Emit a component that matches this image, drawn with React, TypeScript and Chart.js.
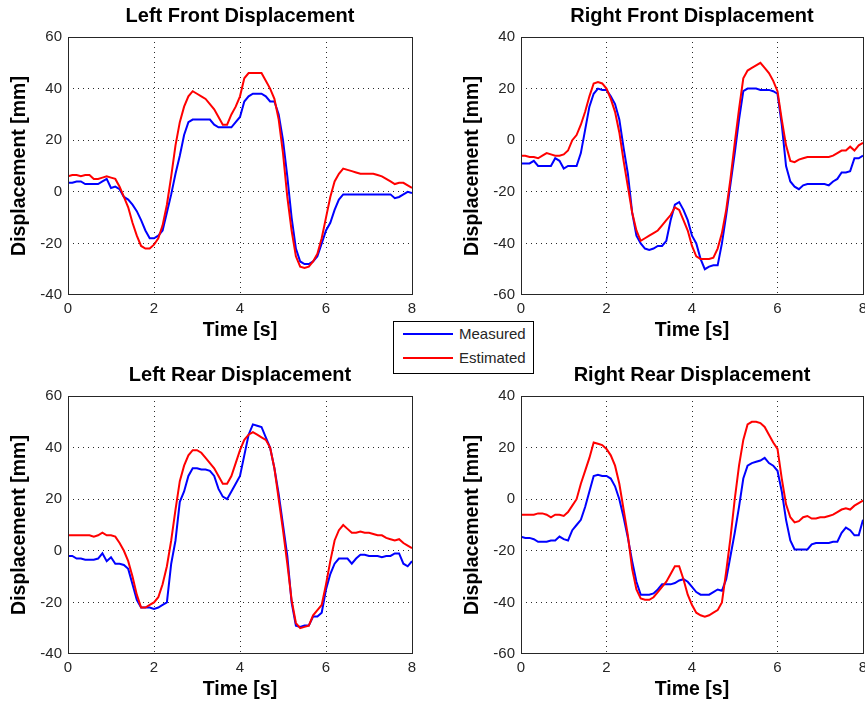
import React, { useEffect, useRef } from 'react';
import { Chart, registerables } from 'chart.js';

Chart.register(...registerables);

const TIME = [
  0, 0.1, 0.2, 0.3, 0.4, 0.5, 0.6, 0.7, 0.8, 0.9,
  1, 1.1, 1.2, 1.3, 1.4, 1.5, 1.6, 1.7, 1.8, 1.9,
  2, 2.1, 2.2, 2.3, 2.4, 2.5, 2.6, 2.7, 2.8, 2.9,
  3, 3.1, 3.2, 3.3, 3.4, 3.5, 3.6, 3.7, 3.8, 3.9,
  4, 4.1, 4.2, 4.3, 4.4, 4.5, 4.6, 4.7, 4.8, 4.9,
  5, 5.1, 5.2, 5.3, 5.4, 5.5, 5.6, 5.7, 5.8, 5.9,
  6, 6.1, 6.2, 6.3, 6.4, 6.5, 6.6, 6.7, 6.8, 6.9,
  7, 7.1, 7.2, 7.3, 7.4, 7.5, 7.6, 7.7, 7.8, 7.9,
  8,
];

const LF_MEASURED = [
  3.5, 3.5, 4, 4, 3, 3, 3, 3, 4, 5,
  1.5, 2, 1, -2, -3, -5, -7.5, -11, -15, -18,
  -18, -17, -15, -8, -1, 7, 14, 22, 27, 28,
  28, 28, 28, 28, 26, 25, 25, 25, 25, 27,
  29, 35, 37, 38, 38, 38, 37, 35, 35, 30,
  20, 6, -10, -22, -27, -28, -28, -27, -25, -20,
  -15, -12, -7, -3, -1, -1, -1, -1, -1, -1,
  -1, -1, -1, -1, -1, -1, -2.5, -2, -1, 0,
  -0.5,
];
const LF_ESTIMATED = [
  6, 6.5, 6.5, 6, 6.5, 6.5, 5, 5, 5.5, 6,
  5.5, 5, 2, -2, -6, -12, -17, -21, -22, -22,
  -20.5, -18, -13, -5, 6, 18, 27, 33, 37, 39,
  38, 37, 36, 34, 32, 29, 26, 26, 30, 33,
  37, 44, 46, 46, 46, 46, 43, 40, 36, 28,
  15, -2, -15, -25, -29, -29.5, -29, -27, -24, -18,
  -10, -2, 4, 7, 9, 8.5, 8, 7.5, 7, 7,
  7, 7, 6.5, 6, 5, 4, 3, 3.5, 3.5, 2.5,
  1.5,
];

const RF_MEASURED = [
  -9, -9, -9, -8, -10, -10, -10, -10, -7, -8,
  -11, -10, -10, -10, -5, 4, 13, 18, 20, 19.5,
  19.5, 17, 14, 8, -3, -13, -28, -37, -40, -42,
  -42.5, -42, -41, -41, -39, -31, -25, -24, -27, -31,
  -37, -40, -46, -50, -49, -48.5, -48.5, -40, -29, -17,
  -5, 8, 19, 20, 20, 20, 19.5, 19.5, 19.5, 19,
  18, 6, -10, -16, -18, -19, -17.5, -17, -17, -17,
  -17, -17, -17.5, -16, -15, -12.5, -12.5, -12, -7, -7,
  -6,
];
const RF_ESTIMATED = [
  -6, -6, -6.5, -6.5, -7, -6, -5, -5.5, -6, -6,
  -5.5, -4, 0, 2, 6, 11, 17, 22, 22.5, 22,
  20, 16, 11, 3, -8, -18, -28, -35, -39, -38,
  -37, -36, -35, -33, -31, -29, -26, -27, -31, -35,
  -41, -45, -46, -46, -46, -45.5, -42, -36, -27, -15,
  -1, 12, 24, 27, 28, 29, 30, 28, 26, 23,
  19, 8, -2, -8, -8.5, -7.5, -7, -6.5, -6.5, -6.5,
  -6.5, -6.5, -6.5, -6, -5, -4, -4, -2.5, -4, -2,
  -1,
];

const LR_MEASURED = [
  -2, -2, -3, -3, -3.5, -3.5, -3.5, -3, -1, -4,
  -2.5, -5, -5, -5.5, -7, -13, -19, -22, -22, -22,
  -22.5, -22, -21, -20, -5, 4, 19, 23, 29, 32,
  32, 31.5, 31.5, 31, 29, 24, 21, 20, 23, 26,
  29, 37, 45, 49, 48.5, 48, 44, 40, 32, 22,
  10, -2, -20, -29, -29.5, -29, -29, -25.5, -25.5, -24,
  -15, -9, -5, -3, -3, -3, -5, -3, -1.5, -1.5,
  -2, -2, -2, -2.5, -2, -2, -1, -1, -5, -6,
  -4,
];
const LR_ESTIMATED = [
  6, 6, 6, 6, 6, 6, 5.5, 6, 7, 6,
  6, 5.5, 3, 0, -4, -10, -17, -22, -22, -21,
  -20, -18, -13, -6, 4, 16, 27, 33, 37, 39,
  39, 38, 36, 34, 32, 29, 26, 26, 29, 34,
  39, 43, 45, 46, 45, 44, 43, 40, 32, 20,
  8, -5, -19, -28, -30, -29.5, -29, -25, -23, -21,
  -13, -4, 4, 8, 10, 8.5, 7, 7, 7.5, 7,
  7, 6.5, 6, 6, 5, 4.5, 4, 4.5, 3, 2,
  1,
];

const RR_MEASURED = [
  -14.5, -15, -15, -15.5, -16.5, -16.5, -16.5, -16, -16, -14.5,
  -15.5, -16, -12, -10, -8, -3, 3, 9, 9.5, 9,
  9, 8, 5, 0, -7, -15, -24, -32, -37, -37,
  -37, -36.5, -35, -33, -33, -33, -32.5, -31.5, -31, -32,
  -34, -36, -37, -37, -37, -36, -35, -35.5, -31, -22,
  -13, -3, 8, 13, 14, 14.5, 15, 16, 14, 13,
  11, 3, -8, -16, -19.5, -19.5, -19.5, -19.5, -17.5, -17,
  -17, -17, -17, -16.5, -16.5, -13, -11, -12, -14, -14,
  -8,
];
const RR_ESTIMATED = [
  -6, -6, -6, -6, -5.5, -5.5, -6, -7, -6, -6,
  -6.5, -5, -2.5, 0, 6, 11, 16, 22, 21.5, 21,
  19.5, 17, 13, 6, -4, -14, -27, -35, -38.5, -39,
  -39, -38, -36, -34, -32, -29, -26, -26, -31, -37,
  -41, -44, -45, -45.5, -45, -44, -43, -40, -28, -15,
  0, 13, 23, 29, 30, 30, 29.5, 28, 25, 22,
  19.5, 8, -2, -7, -9, -8.5, -7, -6.5, -7.5, -7.5,
  -7, -7, -6.5, -6, -5, -4, -3.5, -4, -2.5, -1.5,
  -0.5,
];

const SERIES_NAMES = ['Measured', 'Estimated'];
const SERIES_COLORS = ['#0000ff', '#ff0000'];
const X_LABEL = 'Time [s]';
const Y_LABEL = 'Displacement [mm]';

const FONT = "'Liberation Sans', Arial, Helvetica, sans-serif";
const TEXT_GRAY = '#262626';

type PanelCfg = {
  title: string;
  measured: number[];
  estimated: number[];
  yMin: number;
  yMax: number;
  left: number;
  top: number;
  padRight: number;
};

const PANELS: PanelCfg[] = [
  { title: 'Left Front Displacement', measured: LF_MEASURED, estimated: LF_ESTIMATED, yMin: -40, yMax: 60, left: 0, top: 0, padRight: 20 },
  { title: 'Right Front Displacement', measured: RF_MEASURED, estimated: RF_ESTIMATED, yMin: -60, yMax: 40, left: 453, top: 0, padRight: 22 },
  { title: 'Left Rear Displacement', measured: LR_MEASURED, estimated: LR_ESTIMATED, yMin: -40, yMax: 60, left: 0, top: 359, padRight: 20 },
  { title: 'Right Rear Displacement', measured: RR_MEASURED, estimated: RR_ESTIMATED, yMin: -60, yMax: 40, left: 453, top: 359, padRight: 22 },
];

const boxPlugin = {
  id: 'matlabBox',
  afterDatasetsDraw(chart: any) {
    const { ctx, chartArea } = chart;
    const l = Math.round(chartArea.left);
    const t = Math.round(chartArea.top);
    const r = Math.round(chartArea.right);
    const b = Math.round(chartArea.bottom);
    ctx.save();
    ctx.strokeStyle = '#262626';
    ctx.lineWidth = 1;
    ctx.setLineDash([]);
    ctx.strokeRect(l + 0.5, t + 0.5, r - l, b - t - 1);
    ctx.restore();
  },
};

function gridColorFor(min: number, max: number) {
  return (ctx: any) => {
    const v = ctx.tick ? ctx.tick.value : null;
    if (v === min || v === max) return 'rgba(0,0,0,0)';
    return '#2a2a2a';
  };
}

function Panel({ cfg }: { cfg: PanelCfg }) {
  const ref = useRef<HTMLCanvasElement>(null);
  useEffect(() => {
    if (!ref.current) return;
    const toPoints = (vals: number[]) => TIME.map((t, i) => ({ x: t, y: vals[i] }));
    const chart = new Chart(ref.current, {
      type: 'line',
      data: {
        datasets: [
          {
            label: SERIES_NAMES[0],
            data: toPoints(cfg.measured),
            borderColor: SERIES_COLORS[0],
            backgroundColor: SERIES_COLORS[0],
            borderWidth: 2,
            pointRadius: 0,
            tension: 0,
            fill: false,
            order: 1,
          },
          {
            label: SERIES_NAMES[1],
            data: toPoints(cfg.estimated),
            borderColor: SERIES_COLORS[1],
            backgroundColor: SERIES_COLORS[1],
            borderWidth: 2,
            pointRadius: 0,
            tension: 0,
            fill: false,
            order: 0,
          },
        ],
      },
      options: {
        animation: false,
        responsive: false,
        devicePixelRatio: 1,
        events: [],
        layout: { padding: { left: 0, right: cfg.padRight, top: 0, bottom: 0 } },
        plugins: {
          legend: { display: false },
          tooltip: { enabled: false },
          title: {
            display: true,
            text: cfg.title,
            fullSize: false,
            color: '#000',
            font: { family: FONT, size: 20, weight: 'bold', lineHeight: 1 },
            padding: { top: 6, bottom: 11 },
          },
        },
        scales: {
          x: {
            type: 'linear',
            min: 0,
            max: 8,
            ticks: {
              stepSize: 2,
              color: TEXT_GRAY,
              font: { family: FONT, size: 15 },
              padding: 5,
              maxRotation: 0,
              autoSkip: false,
            },
            grid: { color: gridColorFor(0, 8), lineWidth: 1, drawTicks: false },
            border: { display: false, dash: [1, 4] },
            title: {
              display: true,
              text: X_LABEL,
              color: '#000',
              font: { family: FONT, size: 19.5, weight: 'bold', lineHeight: 1 },
              padding: { top: 0, bottom: 9.5 },
            },
            afterFit: (s: any) => {
              s.height = 55;
            },
          },
          y: {
            type: 'linear',
            min: cfg.yMin,
            max: cfg.yMax,
            ticks: {
              stepSize: 20,
              color: TEXT_GRAY,
              font: { family: FONT, size: 15 },
              padding: 6,
            },
            grid: { color: gridColorFor(cfg.yMin, cfg.yMax), lineWidth: 1, drawTicks: false },
            border: { display: false, dash: [1, 4] },
            title: {
              display: true,
              text: Y_LABEL,
              color: '#000',
              font: { family: FONT, size: 19.5, weight: 'bold', lineHeight: 1 },
              padding: { top: 9.5, bottom: 0 },
            },
            afterFit: (s: any) => {
              s.width = 68;
            },
          },
        },
      } as any,
      plugins: [boxPlugin],
    });
    return () => chart.destroy();
  }, [cfg]);

  return (
    <canvas
      ref={ref}
      width={432}
      height={350}
      style={{ position: 'absolute', left: cfg.left, top: cfg.top, width: 432, height: 350 }}
    />
  );
}

function Legend() {
  const textStyle: React.CSSProperties = {
    position: 'absolute',
    left: 65,
    height: 20,
    lineHeight: '20px',
    fontFamily: FONT,
    fontSize: 15,
    color: TEXT_GRAY,
    whiteSpace: 'nowrap',
  };
  return (
    <div
      style={{
        position: 'absolute',
        left: 393,
        top: 321,
        width: 141,
        height: 53,
        boxSizing: 'border-box',
        border: '1px solid #000',
        background: '#fff',
        zIndex: 2,
      }}
    >
      <div style={{ position: 'absolute', left: 9, top: 11, width: 50, height: 2, background: SERIES_COLORS[0] }} />
      <div style={{ ...textStyle, top: 2 }}>{SERIES_NAMES[0]}</div>
      <div style={{ position: 'absolute', left: 9, top: 35, width: 50, height: 2, background: SERIES_COLORS[1] }} />
      <div style={{ ...textStyle, top: 26 }}>{SERIES_NAMES[1]}</div>
    </div>
  );
}

export default function App() {
  return (
    <div
      style={{
        position: 'absolute',
        left: 0,
        top: 0,
        width: 865,
        height: 709,
        overflow: 'hidden',
        background: '#fff',
      }}
    >
      {PANELS.map((p) => (
        <Panel key={p.title} cfg={p} />
      ))}
      <Legend />
    </div>
  );
}
